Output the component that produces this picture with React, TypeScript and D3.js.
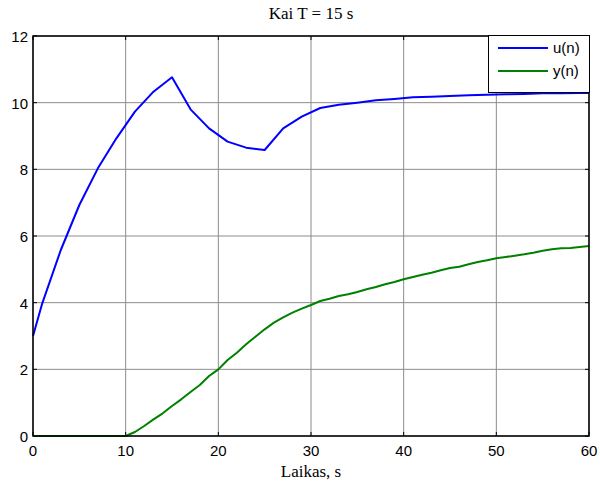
import React from 'react';
import * as d3 from 'd3';

// u(n) knots
const uTime = [0, 1, 3, 5, 7, 9, 11, 13, 15, 17, 19, 21, 23, 25, 27, 29, 31, 33, 35, 37, 39, 41, 43, 45, 47, 49, 51, 53, 55, 57, 59, 60];
const uValues = [3.0, 3.98, 5.58, 6.93, 8.03, 8.93, 9.73, 10.33, 10.76, 9.8, 9.23, 8.83, 8.65, 8.58, 9.23, 9.58, 9.84, 9.94, 10.0, 10.07, 10.11, 10.16, 10.18, 10.2, 10.22, 10.24, 10.25, 10.26, 10.28, 10.28, 10.29, 10.29];

// y(n) per second
const yTime = d3.range(0, 61);
const yValues = [
  0, 0, 0, 0, 0, 0, 0, 0, 0, 0, 0,
  0.12, 0.3, 0.5, 0.68, 0.9, 1.1, 1.32, 1.53, 1.8, 2.0,
  2.28, 2.5, 2.75, 2.98, 3.2, 3.4, 3.56, 3.7, 3.82, 3.93,
  4.05, 4.12, 4.2, 4.25, 4.32, 4.4, 4.47, 4.55, 4.62, 4.7,
  4.77, 4.84, 4.9, 4.97, 5.04, 5.08, 5.15, 5.22, 5.27, 5.33,
  5.37, 5.41, 5.45, 5.5, 5.56, 5.6, 5.63, 5.64, 5.67, 5.7,
];

const xTicks = [0, 10, 20, 30, 40, 50, 60];
const yTicks = [0, 2, 4, 6, 8, 10, 12];
const legendLabels = ['u(n)', 'y(n)'];
const colors = ['#0000ff', '#008000'];

const App = () => {
  const left = 33, right = 589, top = 36, bottom = 436;
  const x = d3.scaleLinear().domain([0, 60]).range([left, right]);
  const y = d3.scaleLinear().domain([0, 12]).range([bottom, top]);

  const line = d3.line<[number, number]>().x(d => x(d[0])).y(d => y(d[1]));
  const uPts = uTime.map((t, i) => [t, uValues[i]] as [number, number]);
  const yPts = yTime.map((t, i) => [t, yValues[i]] as [number, number]);

  const sans = 'Liberation Sans, Arial, sans-serif';
  const serif = 'Liberation Serif, Times New Roman, serif';

  return (
    <svg width={600} height={481} style={{ position: 'absolute', left: 0, top: 0, background: '#fff' }}>
      <rect x={0} y={0} width={600} height={481} fill="#fff" />
      {/* grid */}
      {xTicks.map(t => (
        <line key={'gx' + t} x1={x(t)} x2={x(t)} y1={top} y2={bottom} stroke="#8c8c8c" strokeWidth={1} />
      ))}
      {yTicks.map(t => (
        <line key={'gy' + t} x1={left} x2={right} y1={y(t)} y2={y(t)} stroke="#8c8c8c" strokeWidth={1} />
      ))}
      {/* ticks */}
      {xTicks.map(t => (
        <g key={'tx' + t}>
          <line x1={x(t)} x2={x(t)} y1={bottom} y2={bottom - 4} stroke="#000" />
          <line x1={x(t)} x2={x(t)} y1={top} y2={top + 4} stroke="#000" />
          <text x={x(t)} y={bottom + 20} textAnchor="middle" fontFamily={sans} fontSize={15}>{t}</text>
        </g>
      ))}
      {yTicks.map(t => (
        <g key={'ty' + t}>
          <line x1={left} x2={left + 4} y1={y(t)} y2={y(t)} stroke="#000" />
          <line x1={right} x2={right - 4} y1={y(t)} y2={y(t)} stroke="#000" />
          <text x={left - 5} y={y(t) + 6} textAnchor="end" fontFamily={sans} fontSize={15}>{t}</text>
        </g>
      ))}
      {/* lines */}
      <path d={line(uPts) || ''} fill="none" stroke={colors[0]} strokeWidth={2} strokeLinejoin="round" />
      <path d={line(yPts) || ''} fill="none" stroke={colors[1]} strokeWidth={2} strokeLinejoin="round" />
      {/* axes box */}
      <rect x={left} y={top} width={right - left} height={bottom - top} fill="none" stroke="#000" strokeWidth={1.5} />
      {/* legend */}
      <rect x={488.5} y={35.5} width={101} height={57} fill="#fff" stroke="#000" strokeWidth={1} />
      {legendLabels.map((lab, i) => (
        <g key={lab}>
          <line x1={498} x2={548} y1={48 + i * 23} y2={48 + i * 23} stroke={colors[i]} strokeWidth={2} />
          <text x={553} y={53 + i * 23} fontFamily={sans} fontSize={15}>{lab}</text>
        </g>
      ))}
      {/* title and label */}
      <text x={(left + right) / 2} y={19} textAnchor="middle" fontFamily={serif} fontSize={17}>Kai T = 15 s</text>
      <text x={(left + right) / 2} y={477} textAnchor="middle" fontFamily={serif} fontSize={17}>Laikas, s</text>
    </svg>
  );
};

export default App;
